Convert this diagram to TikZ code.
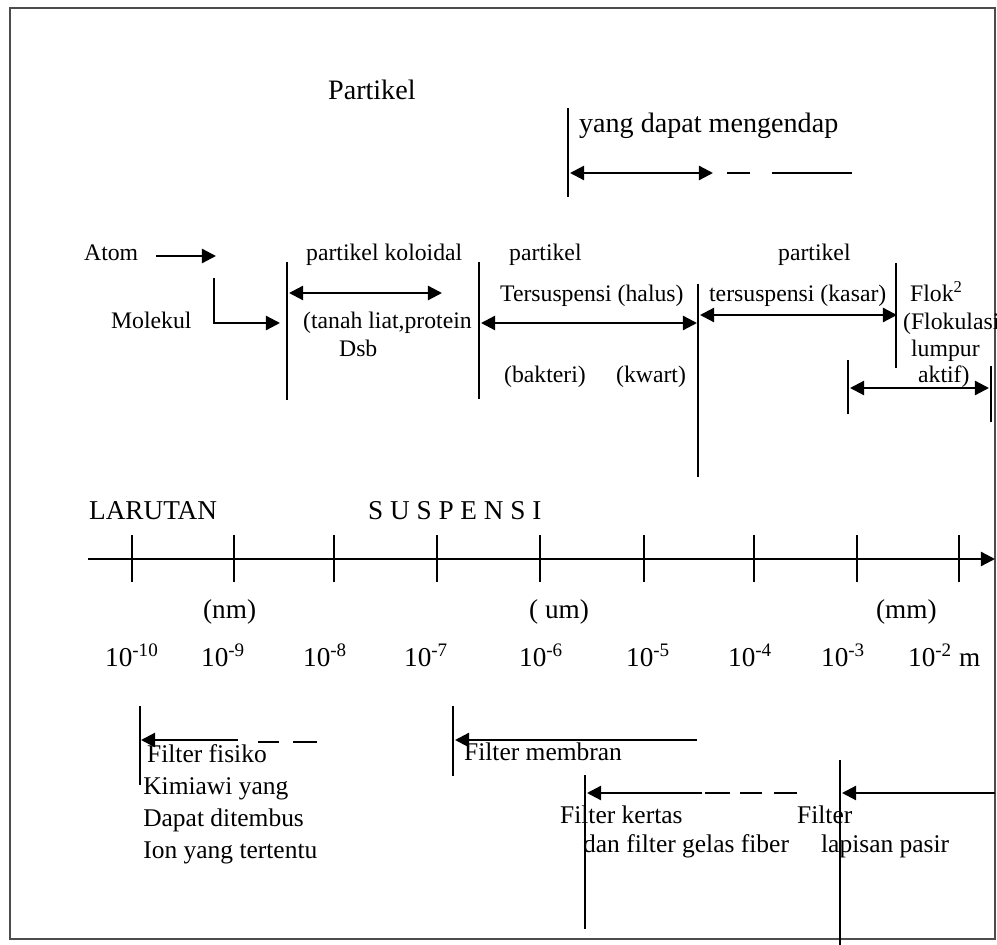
\documentclass[tikz,border=0pt]{standalone}
\usepackage{fontspec}
\setmainfont{Liberation Serif}
\usetikzlibrary{arrows.meta,positioning}

\begin{document}
\begin{tikzpicture}[x=0.02cm,y=-0.02cm,line width=1.3pt]
\tikzstyle{lbl}=[inner sep=0pt,anchor=base west,font=\fontsize{13.5}{16}\selectfont]
\tikzstyle{big}=[lbl,font=\fontsize{16}{19}\selectfont]
\tikzstyle{axlbl}=[lbl,font=\fontsize{15.5}{18}\selectfont]
\tikzstyle{flt}=[lbl,text height=12pt,text depth=5pt,font=\fontsize{14.5}{17}\selectfont]
\tikzstyle{arr}=[-{Triangle[length=8pt,width=8pt]}]
\tikzstyle{darr}=[{Triangle[length=8pt,width=8pt]}-{Triangle[length=8pt,width=8pt]}]

\useasboundingbox (0,0) rectangle (997,945);
\draw[line width=1pt,black!70] (10,8) rectangle (995,939);

% partikel yang dapat mengendap
\node[big] (partikel) at (327,100) {Partikel};
\node[big] (endap) at (578,133) {yang dapat mengendap};
\coordinate (s1) at (568,108);
\coordinate (s2) at (568,197);
\coordinate (e0) at (570,173);
\coordinate (e1) at (713,173);
\coordinate (e2) at (727,173);
\coordinate (e3) at (852,173);
\draw (s1) -- (s2);
\draw[darr] (e0) -- (e1);
\draw[dash pattern=on 13pt off 12.5pt on 46pt] (e2) -- (e3);

% atom, molekul
\node[lbl] (atom) at (83,261) {Atom};
\node[lbl] (molekul) at (110,329) {Molekul};
\coordinate (a0) at (156,256);
\coordinate (a1) at (216,256);
\coordinate (m0) at (214,278);
\coordinate (m1) at (214,323);
\coordinate (m2) at (280,323);
\draw[arr] (a0) -- (a1);
\draw[arr] (m0) -- (m1) -- (m2);

% koloid
\coordinate (k1) at (287,262);
\coordinate (k2) at (287,400);
\draw (k1) -- (k2);
\node[lbl] (koloid) at (305,261) {partikel koloidal};
\draw[darr] (289,293) coordinate (k3) -- (442,293) coordinate (k4);
\node[lbl] (tanah) at (302,329) {(tanah liat,protein};
\node[lbl] (dsb) at (338,357) {Dsb};

% tersuspensi halus
\coordinate (h1) at (479,262);
\coordinate (h2) at (479,399);
\draw (h1) -- (h2);
\node[lbl] (halus0) at (508,261) {partikel};
\node[lbl] (halus) at (499,302) {Tersuspensi (halus)};
\draw[darr] (481,323) coordinate (h3) -- (697,323) coordinate (h4);
\node[lbl] (bakteri) at (503,383) {(bakteri)};
\node[lbl] (kwart) at (615,383) {(kwart)};

% tersuspensi kasar
\coordinate (c1) at (698,284);
\coordinate (c2) at (698,477);
\draw (c1) -- (c2);
\node[lbl] (kasar0) at (777,261) {partikel};
\node[lbl] (kasar) at (708,302) {tersuspensi (kasar)};
\draw[darr] (700,315) coordinate (c3) -- (897,315) coordinate (c4);

% flok
\coordinate (f1) at (896,263);
\coordinate (f2) at (896,368);
\draw (f1) -- (f2);
\node[lbl] (flok) at (909,302) {Flok\textsuperscript{2}};
\node[lbl] (flok1) at (902,330) {(Flokulasi};
\node[lbl] (flok2) at (910,357) {lumpur};
\node[lbl] (flok3) at (917,383) {aktif)};
\coordinate (f3) at (848,360);
\coordinate (f4) at (848,414);
\coordinate (f5) at (991,366);
\coordinate (f6) at (991,422);
\draw (f3) -- (f4);
\draw (f5) -- (f6);
\draw[darr] (850,388) coordinate (f7) -- (989,388) coordinate (f8);

% skala
\node[axlbl] (larutan) at (88,520) {LARUTAN};
\node[axlbl] (suspensi) at (367,520) {S U S P E N S I};
\coordinate (x0) at (88,559);
\coordinate (x1) at (995,559);
\draw[arr] (x0) -- (x1);
\foreach \x in {132,234,334,437,540,644,754,857,959}
  \draw (\x,535) -- (\x,582);
\node[axlbl] (nm) at (202,618) {(nm)};
\node[axlbl] (um) at (528,618) {( um)};
\node[axlbl] (mm) at (875,618) {(mm)};
\foreach \x/\e [count=\i] in {104/-10,200/-9,302/-8,403/-7,518/-6,625/-5,727/-4,820/-3,907/-2}
  \node[axlbl] (p\i) at (\x,666) {10\textsuperscript{\e}};
\node[axlbl] (meter) at (958,666) {m};

% filter fisiko kimiawi
\coordinate (q1) at (140,706);
\coordinate (q2) at (140,785);
\draw (q1) -- (q2);
\draw[arr] (238,740) coordinate (q3) -- (141,740) coordinate (q4);
\draw[dash pattern=on 12pt off 8pt on 13.6pt] (258,742) coordinate (q5) -- (317,742) coordinate (q6);
\node[flt] (fisiko) at (146,762) {Filter fisiko};
\node[flt] (kimia) [below right=0pt and -2.2pt of fisiko.south west] {Kimiawi yang};
\node[flt] (tembus) [below right=0pt and 0pt of kimia.south west] {Dapat ditembus};
\node[flt] (ion) [below right=0pt and 0pt of tembus.south west] {Ion yang tertentu};

% filter membran
\coordinate (r1) at (453,706);
\coordinate (r2) at (453,776);
\draw (r1) -- (r2);
\draw[arr] (697,740) coordinate (r3) -- (455,740) coordinate (r4);
\node[flt] (membran) at (463,760) {Filter membran};

% filter kertas
\coordinate (t1) at (585,775);
\coordinate (t2) at (585,929);
\draw (t1) -- (t2);
\draw[arr] (702,793) coordinate (t3) -- (587,793) coordinate (t4);
\draw[dash pattern=on 14pt off 6pt on 12.5pt off 7pt on 13pt] (705,793) coordinate (t5) -- (798,793) coordinate (t6);
\node[flt] (kertas) at (559,823) {Filter kertas};
\node[flt] (gelas) at (582,852) {dan filter gelas fiber};

% filter lapisan pasir
\coordinate (u1) at (840,760);
\coordinate (u2) at (840,945);
\draw (u1) -- (u2);
\draw[arr] (995,793) coordinate (u3) -- (842,793) coordinate (u4);
\node[flt] (pasir0) at (796,823) {Filter};
\node[flt] (pasir) at (820,852) {lapisan pasir};
\end{tikzpicture}
\end{document}
